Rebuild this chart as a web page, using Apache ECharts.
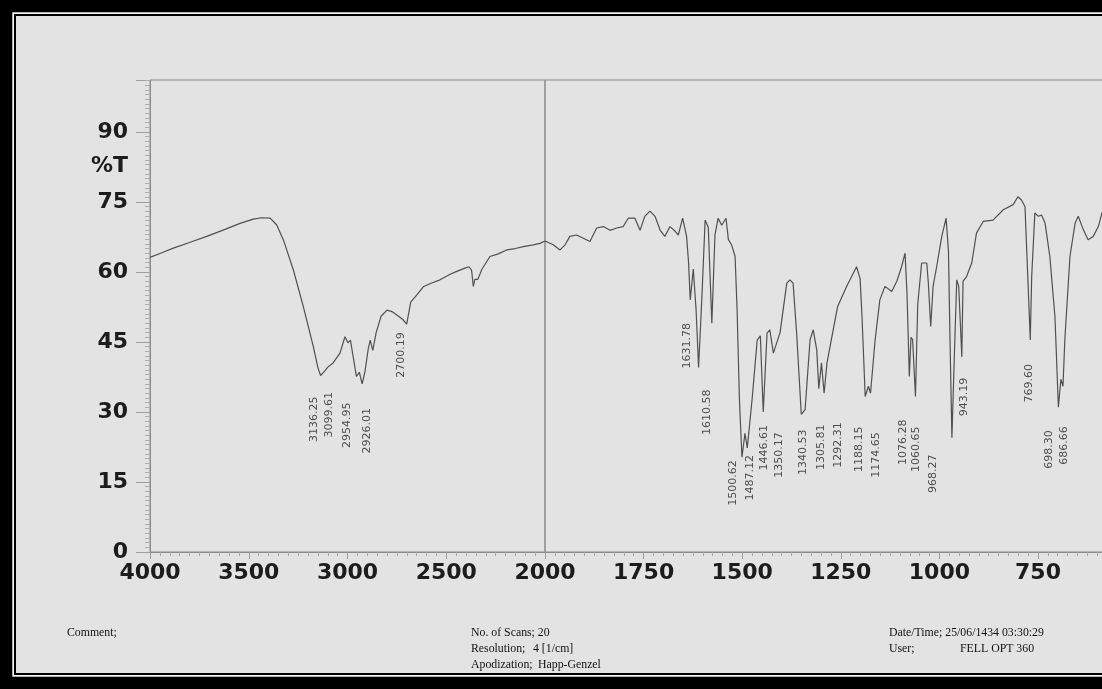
<!DOCTYPE html>
<html>
<head>
<meta charset="utf-8">
<script src="https://cdn.jsdelivr.net/npm/echarts@6/dist/echarts.min.js"></script>
<style>
  html, body { margin: 0; padding: 0; background: #000; }
  #chart { width: 1102px; height: 689px; }
</style>
</head>
<body>
<div id="chart"></div>
<script>
// FTIR transmission spectrum: %T against wavenumber (cm-1).
// The abscissa changes scale at 2000 cm-1, so the plot is split into two grids.

const wavenumbers = [
  4000, 3940, 3882, 3800, 3713, 3620, 3544, 3477, 3434, 3392, 3359, 3325, 3274, 3224, 3173, 3150,
  3136.25, 3119, 3099.61, 3073, 3038, 3013, 2998, 2985, 2970, 2954.95, 2940, 2926.01, 2912, 2895,
  2885, 2872, 2855, 2830, 2800, 2775, 2745, 2720, 2700.19, 2680, 2650, 2616, 2580, 2532, 2480,
  2447, 2405, 2385, 2372, 2363, 2355, 2340, 2320, 2279, 2240, 2194, 2150, 2110, 2060, 2025, 2000,
  1979, 1962, 1949, 1937, 1920, 1903, 1886, 1869, 1852, 1835, 1818, 1802, 1789, 1772, 1759, 1747,
  1734, 1721, 1708, 1696, 1683, 1670, 1662, 1651, 1641, 1636, 1631.78, 1624, 1617, 1610.58, 1602,
  1594, 1586, 1577, 1569, 1561, 1552, 1541, 1535, 1527, 1518, 1513, 1507, 1500.62, 1493, 1487.12,
  1475, 1462, 1454, 1446.61, 1437, 1430, 1421, 1404, 1387, 1379, 1371, 1362, 1350.17, 1340.53,
  1328, 1320, 1311, 1305.81, 1299, 1292.31, 1285, 1275, 1258, 1235, 1210, 1201, 1196, 1188.15,
  1180, 1174.65, 1163, 1151, 1138, 1121, 1108, 1096, 1087, 1082, 1076.28, 1072, 1068, 1060.65,
  1055, 1045, 1032, 1028, 1022, 1016, 1007, 994, 983, 977, 973, 968.27, 961, 956, 951, 943.19,
  940, 931, 918, 906, 889, 864, 838, 813, 801, 792, 783, 775, 769.60, 766, 758, 749, 741, 732,
  720, 707, 698.30, 692, 686.66, 682, 669, 656, 648, 635, 623, 610, 597, 588, 578
];

const transmittance = [
  63.1, 64.1, 65.1, 66.3, 67.6, 69.1, 70.4, 71.3, 71.6, 71.5, 70.1, 66.9, 60.4, 52.6, 44.0, 39.5,
  37.8, 38.6, 39.6, 40.5, 42.6, 46.1, 44.8, 45.4, 41.5, 37.6, 38.5, 36.0, 38.5, 43.5,
  45.4, 43.2, 47.0, 50.5, 51.8, 51.5, 50.6, 49.8, 48.8, 53.5, 55.0, 56.8, 57.5, 58.3, 59.5,
  60.1, 60.8, 61.1, 60.4, 56.9, 58.4, 58.4, 60.5, 63.3, 63.8, 64.7, 65.0, 65.4, 65.8, 66.1, 66.6,
  65.8, 64.7, 65.8, 67.6, 67.9, 67.2, 66.5, 69.4, 69.7, 68.9, 69.4, 69.7, 71.5, 71.5, 68.9, 71.9,
  73.0, 71.9, 68.9, 67.6, 69.7, 68.7, 67.9, 71.5, 67.6, 62.0, 54.0, 60.6, 52.0, 39.5, 55.0,
  71.1, 69.5, 49.0, 68.0, 71.5, 70.0, 71.5, 66.9, 65.8, 63.3, 52.0, 32.6, 20.3, 25.4, 22.3,
  32.6, 45.4, 46.3, 30.0, 46.9, 47.6, 42.6, 47.0, 57.6, 58.3, 57.6, 46.9, 29.5, 30.5,
  45.4, 47.6, 43.3, 35.0, 40.5, 34.0, 40.5, 45.0, 52.6, 56.9, 61.1, 58.5, 50.0, 33.3,
  35.5, 34.0, 45.4, 54.0, 56.9, 55.8, 58.0, 61.1, 64.0, 55.0, 37.6, 46.0, 45.5, 33.3,
  53.0, 61.9, 61.9, 57.5, 48.3, 56.9, 61.1, 67.6, 71.5, 64.5, 45.0, 24.5, 45.0, 58.3, 56.9, 41.8,
  58.0, 59.0, 61.9, 68.3, 70.8, 71.1, 73.3, 74.4, 76.1, 75.4, 74.0, 57.0, 45.4, 59.0, 72.6, 71.9, 72.2, 70.4,
  63.3, 50.4, 31.0, 37.0, 35.5, 45.4, 63.3, 70.4, 71.9, 69.0, 66.9, 67.6, 69.7, 72.6, 74.5
];

// Annotated band positions (cm-1)
const peakWavenumbers = [
  3136.25, 3099.61, 2954.95, 2926.01, 2700.19, 1631.78, 1610.58, 1500.62, 1487.12, 1446.61,
  1350.17, 1340.53, 1305.81, 1292.31, 1188.15, 1174.65, 1076.28, 1060.65, 968.27, 943.19,
  769.60, 698.30, 686.66
];

const yTickValues = [0, 15, 30, 45, 60, 75, 90];
const xTicksHigh = [4000, 3500, 3000, 2500, 2000];
const xTicksLow = [1750, 1500, 1250, 1000, 750];

const infoLeft = ['Comment;'];
const infoMiddle = ['No. of Scans; 20', 'Resolution;', 'Apodization;'];
const infoMiddleValues = ['', '4 [1/cm]', 'Happ-Genzel'];
const infoRight = ['Date/Time; 25/06/1434 03:30:29', 'User;'];
const infoRightValues = ['', 'FELL OPT 360'];

// Screen offset of each annotation's upper end relative to its band minimum [dx, dy]
const labelNudge = [
  [-1, 21], [7, 25], [-4, 26], [11, 24], [0, 8], [2, 23], [14, 22], [-3, 3], [8, 7], [6, 13],
  [-17, 18], [4, 20], [8, 36], [20, 29], [-1, 30], [11, 39], [-1, 43], [6, 30], [-13, 17], [8, 21],
  [4, 24], [-4, 23], [7, 40]
];

const FONT = '"DejaVu Sans", sans-serif';
const INK = '#1c1c1c';
const AXIS = '#8a8a8a';
const PAPER = '#e3e3e3';

const points = wavenumbers.map((w, i) => [w, transmittance[i]]);
const highPart = points.filter(p => p[0] >= 2000);
const lowPart = points.filter(p => p[0] <= 2000);

const peaks = peakWavenumbers.map((w, i) => {
  const t = transmittance[wavenumbers.indexOf(w)];
  const n = labelNudge[i];
  return {
    name: w.toFixed(2),
    value: [w, t],
    // offset is given in the rotated label frame: [-dy, dx]
    label: { offset: [-n[1], n[0]] }
  };
});

function peakSeries(axisIndex, keep) {
  return {
    type: 'scatter',
    xAxisIndex: axisIndex,
    yAxisIndex: axisIndex,
    symbolSize: 1,
    silent: true,
    z: 5,
    itemStyle: { color: 'rgba(0,0,0,0)' },
    label: {
      show: true,
      position: 'inside',
      rotate: 90,
      align: 'right',
      verticalAlign: 'bottom',
      color: '#262626',
      fontFamily: FONT,
      fontSize: 11,
      formatter: p => p.data.name
    },
    data: peaks.filter(p => keep(p.value[0]))
  };
}

const spectrumLine = (axisIndex, data) => ({
  type: 'line',
  xAxisIndex: axisIndex,
  yAxisIndex: axisIndex,
  data: data,
  showSymbol: false,
  silent: true,
  lineStyle: { color: '#505050', width: 1.2 },
  z: 3
});

function xAxisFor(gridIndex, min, max, interval, shown) {
  return {
    type: 'value',
    gridIndex: gridIndex,
    min: min,
    max: max,
    interval: interval,
    inverse: true,
    axisLine: { show: true, lineStyle: { color: AXIS, width: 1 } },
    axisTick: { show: true, length: 7, lineStyle: { color: '#9a9a9a' } },
    minorTick: { show: true, splitNumber: 10, length: 4, lineStyle: { color: '#a8a8a8' } },
    splitLine: { show: false },
    axisLabel: {
      show: true,
      margin: 10,
      color: INK,
      fontFamily: FONT,
      fontWeight: 'bold',
      fontSize: 22,
      showMinLabel: true,
      showMaxLabel: true,
      formatter: v => (shown.indexOf(v) >= 0 ? String(v) : '')
    }
  };
}

function yAxisFor(gridIndex, withLabels) {
  return {
    type: 'value',
    gridIndex: gridIndex,
    min: 0,
    max: 101.1,
    interval: 15,
    axisLine: { show: withLabels, lineStyle: { color: AXIS, width: 1 } },
    axisTick: { show: withLabels, length: 14, lineStyle: { color: '#a0a0a0' } },
    minorTick: { show: withLabels, splitNumber: 15, length: 5, lineStyle: { color: '#acacac' } },
    splitLine: { show: false },
    axisLabel: {
      show: withLabels,
      margin: 22,
      color: INK,
      fontFamily: FONT,
      fontWeight: 'bold',
      fontSize: 22,
      formatter: v => (yTickValues.indexOf(v) >= 0 ? String(v) : '')
    }
  };
}

const W = 1102, H = 689;
const infoFont = { fontFamily: '"Liberation Serif", "Times New Roman", serif', fontSize: 11.8, fill: '#111' };

function infoText(x, y, text) {
  return { type: 'text', x: x, y: y, z: 50, style: Object.assign({ text: text, textVerticalAlign: 'middle' }, infoFont) };
}

const graphics = [
  // scanned-sheet frame: heavy black edge, thin white gap, thin black rule
  { type: 'rect', z: 60, shape: { x: 6.25, y: 6.25, width: W + 200, height: H - 12.5 },
    style: { fill: 'none', stroke: '#000', lineWidth: 12.5 } },
  { type: 'rect', z: 60, shape: { x: 13.25, y: 13.25, width: W + 200, height: H - 26.5 },
    style: { fill: 'none', stroke: '#f4f4f4', lineWidth: 1.5 } },
  { type: 'rect', z: 60, shape: { x: 15, y: 15, width: W + 200, height: H - 30 },
    style: { fill: 'none', stroke: '#000', lineWidth: 2 } },
  // ordinate title
  { type: 'text', x: 128, y: 166, z: 50,
    style: { text: '%T', textAlign: 'right', textVerticalAlign: 'middle', fontFamily: FONT, fontWeight: 'bold', fontSize: 22, fill: INK } },
  infoText(67, 633, infoLeft[0]),
  infoText(471, 633, infoMiddle[0]),
  infoText(471, 649, infoMiddle[1]),
  infoText(533, 649, infoMiddleValues[1]),
  infoText(471, 665, infoMiddle[2]),
  infoText(538, 665, infoMiddleValues[2]),
  infoText(889, 633, infoRight[0]),
  infoText(889, 649, infoRight[1]),
  infoText(960, 649, infoRightValues[1])
];

const option = {
  animation: false,
  backgroundColor: PAPER,
  grid: [
    { left: 150, top: 80, width: 395, height: 472, show: true, borderColor: AXIS, borderWidth: 1,
      backgroundColor: 'transparent', outerBoundsMode: 'none', containLabel: false },
    { left: 545, top: 80, width: 591.6, height: 472, show: true, borderColor: AXIS, borderWidth: 1,
      backgroundColor: 'transparent', outerBoundsMode: 'none', containLabel: false }
  ],
  xAxis: [
    xAxisFor(0, 2000, 4000, 500, xTicksHigh),
    xAxisFor(1, 500, 2000, 250, xTicksLow)
  ],
  yAxis: [yAxisFor(0, true), yAxisFor(1, false)],
  series: [
    spectrumLine(0, highPart),
    spectrumLine(1, lowPart),
    peakSeries(0, w => w > 2000),
    peakSeries(1, w => w < 2000)
  ],
  graphic: { elements: graphics }
};

const chart = echarts.init(document.getElementById('chart'));
chart.setOption(option);
</script>
</body>
</html>
